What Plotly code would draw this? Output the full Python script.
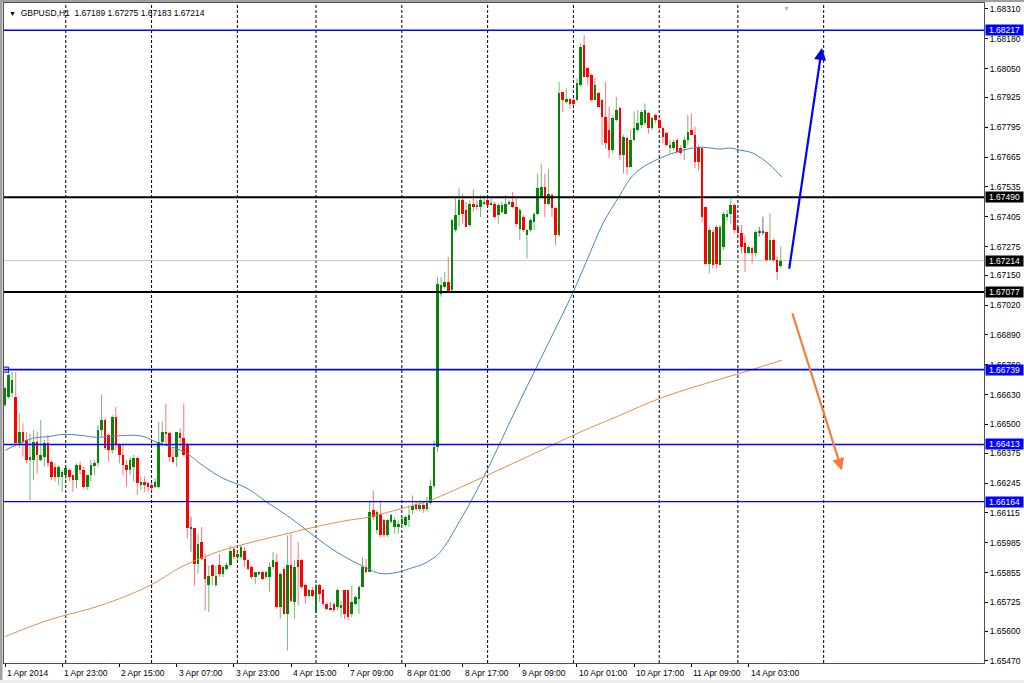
import plotly.graph_objects as go

# ---------------- DATA ----------------
title_text = "GBPUSD,H1  1.67189 1.67275 1.67183 1.67214"

# hourly bars, index 0 = 1 Apr 2014 07:00
open_ = [
1.66584,1.66620,1.66635,1.66620,1.66418,1.66468,1.66432,1.66345,1.66345,1.66425,
1.66345,1.66360,1.66418,1.66338,1.66316,1.66273,1.66273,1.66280,1.66302,1.66280,
1.66258,1.66323,1.66302,1.66229,1.66280,1.66323,1.66331,1.66476,1.66519,1.66454,
1.66389,1.66534,1.66410,1.66367,1.66323,1.66302,1.66316,1.66352,1.66236,1.66251,
1.66244,1.66236,1.66229,1.66229,1.66425,1.66468,1.66461,1.66360,1.66360,1.66461,
1.66439,1.66410,1.66048,1.66048,1.65893,1.65988,1.65915,1.65799,1.65886,1.65799,
1.65886,1.65850,1.65871,1.65886,1.65959,1.65922,1.65922,1.65951,1.65908,1.65879,
1.65835,1.65853,1.65857,1.65835,1.65835,1.65879,1.65900,1.65704,1.65871,1.65675,
1.65886,1.65726,1.65908,1.65908,1.65799,1.65755,1.65777,1.65682,1.65799,1.65777,
1.65719,1.65697,1.65719,1.65704,1.65704,1.65777,1.65777,1.65675,1.65719,1.65741,
1.65792,1.65879,1.65857,1.66126,1.66039,1.66111,1.66082,1.66017,1.66075,1.66053,
1.66053,1.66068,1.66060,1.66082,1.66126,1.66155,1.66133,1.66150,1.66130,1.66160,
1.66230,1.66400,1.67070,1.67099,1.67121,1.67085,1.67346,1.67412,1.67477,1.67433,
1.67368,1.67462,1.67448,1.67448,1.67462,1.67477,1.67455,1.67462,1.67412,1.67426,
1.67419,1.67462,1.67470,1.67448,1.67353,1.67404,1.67324,1.67346,1.67383,1.67419,
1.67491,1.67535,1.67462,1.67499,1.67441,1.67324,1.67949,1.67906,1.67920,1.67913,
1.67913,1.67978,1.68153,1.68051,1.68022,1.67913,1.67942,1.67913,1.67840,1.67782,
1.67695,1.67826,1.67877,1.67674,1.67746,1.67623,1.67739,1.67783,1.67804,1.67812,
1.67855,1.67790,1.67848,1.67826,1.67790,1.67768,1.67703,1.67703,1.67739,1.67703,
1.67703,1.67739,1.67783,1.67761,1.67710,1.67703,1.67448,1.67201,1.67339,1.67361,
1.67194,1.67274,1.67405,1.67419,1.67456,1.67361,1.67332,1.67289,1.67245,1.67267,
1.67245,1.67339,1.67339,1.67339,1.67216,1.67303,1.67216,1.67189]
high_ = [
1.66664,1.66729,1.66729,1.66729,1.66548,1.66505,1.66468,1.66461,1.66476,1.66468,
1.66519,1.66432,1.66454,1.66345,1.66331,1.66323,1.66302,1.66316,1.66309,1.66280,
1.66331,1.66338,1.66316,1.66280,1.66345,1.66345,1.66497,1.66628,1.66526,1.66461,
1.66541,1.66577,1.66418,1.66418,1.66345,1.66360,1.66367,1.66360,1.66273,1.66273,
1.66251,1.66244,1.66265,1.66512,1.66512,1.66591,1.66468,1.66396,1.66468,1.66483,
1.66591,1.66418,1.66099,1.66048,1.66024,1.66053,1.65937,1.65886,1.65893,1.65886,
1.65937,1.65886,1.65900,1.65973,1.65966,1.65951,1.65973,1.65966,1.65915,1.65886,
1.65857,1.65860,1.65864,1.65864,1.65900,1.65944,1.65937,1.65857,1.65879,1.66017,
1.66024,1.65908,1.65988,1.65915,1.65806,1.65785,1.65792,1.65806,1.65806,1.65785,
1.65726,1.65726,1.65726,1.65785,1.65733,1.65777,1.65777,1.65799,1.65755,1.65799,
1.65922,1.65915,1.66169,1.66213,1.66126,1.66169,1.66089,1.66089,1.66111,1.66097,
1.66082,1.66097,1.66104,1.66147,1.66191,1.66162,1.66170,1.66165,1.66185,1.66260,
1.66430,1.67143,1.67143,1.67165,1.67230,1.67397,1.67484,1.67528,1.67506,1.67470,
1.67477,1.67523,1.67477,1.67499,1.67499,1.67491,1.67484,1.67470,1.67462,1.67470,
1.67499,1.67477,1.67513,1.67484,1.67441,1.67412,1.67353,1.67397,1.67426,1.67593,
1.67637,1.67593,1.67615,1.67506,1.67448,1.67993,1.67949,1.67964,1.67920,1.67920,
1.68007,1.68160,1.68196,1.68058,1.68029,1.68007,1.67949,1.67920,1.67993,1.67884,
1.67847,1.67927,1.67884,1.67761,1.67754,1.67783,1.67863,1.67870,1.67870,1.67899,
1.67863,1.67841,1.67855,1.67834,1.67797,1.67775,1.67739,1.67739,1.67746,1.67717,
1.67754,1.67848,1.67855,1.67797,1.67717,1.67710,1.67448,1.67361,1.67347,1.67369,
1.67369,1.67427,1.67434,1.67485,1.67463,1.67369,1.67369,1.67325,1.67281,1.67274,
1.67347,1.67361,1.67405,1.67339,1.67419,1.67310,1.67231,1.67275]
low_ = [
1.66577,1.66613,1.66620,1.66410,1.66396,1.66360,1.66331,1.66171,1.66258,1.66287,
1.66338,1.66316,1.66316,1.66258,1.66251,1.66236,1.66207,1.66251,1.66251,1.66207,
1.66222,1.66280,1.66222,1.66215,1.66251,1.66280,1.66316,1.66447,1.66389,1.66338,
1.66374,1.66389,1.66331,1.66280,1.66229,1.66280,1.66251,1.66193,1.66215,1.66207,
1.66207,1.66200,1.66222,1.66222,1.66403,1.66418,1.66338,1.66331,1.66316,1.66396,
1.66360,1.66004,1.65946,1.65799,1.65850,1.65908,1.65690,1.65682,1.65799,1.65792,
1.65835,1.65835,1.65864,1.65879,1.65915,1.65908,1.65915,1.65879,1.65864,1.65828,
1.65806,1.65842,1.65821,1.65828,1.65770,1.65871,1.65697,1.65653,1.65675,1.65515,
1.65726,1.65653,1.65712,1.65785,1.65719,1.65748,1.65748,1.65675,1.65726,1.65712,
1.65690,1.65690,1.65682,1.65690,1.65661,1.65653,1.65646,1.65661,1.65712,1.65675,
1.65792,1.65850,1.65857,1.66082,1.66024,1.66010,1.66010,1.66010,1.66068,1.66024,
1.66024,1.66060,1.66053,1.66053,1.66111,1.66126,1.66120,1.66115,1.66120,1.66150,
1.66220,1.66380,1.67056,1.67092,1.67077,1.67077,1.67339,1.67361,1.67375,1.67361,
1.67361,1.67426,1.67433,1.67404,1.67455,1.67448,1.67455,1.67397,1.67375,1.67419,
1.67419,1.67455,1.67441,1.67361,1.67303,1.67339,1.67223,1.67339,1.67346,1.67412,
1.67484,1.67404,1.67455,1.67404,1.67281,1.67317,1.67862,1.67898,1.67877,1.67884,
1.67906,1.67971,1.68015,1.67978,1.67906,1.67913,1.67884,1.67717,1.67702,1.67659,
1.67680,1.67818,1.67651,1.67594,1.67587,1.67623,1.67732,1.67775,1.67790,1.67804,
1.67768,1.67783,1.67812,1.67783,1.67725,1.67710,1.67681,1.67695,1.67681,1.67674,
1.67652,1.67717,1.67761,1.67616,1.67608,1.67383,1.67194,1.67158,1.67180,1.67180,
1.67194,1.67260,1.67390,1.67376,1.67332,1.67318,1.67245,1.67165,1.67245,1.67201,
1.67231,1.67318,1.67325,1.67209,1.67216,1.67209,1.67129,1.67183]
close_ = [
1.66657,1.66715,1.66693,1.66418,1.66468,1.66425,1.66345,1.66360,1.66425,1.66367,
1.66367,1.66418,1.66331,1.66273,1.66273,1.66316,1.66294,1.66309,1.66273,1.66258,
1.66323,1.66302,1.66229,1.66280,1.66323,1.66331,1.66476,1.66519,1.66396,1.66389,
1.66534,1.66410,1.66367,1.66323,1.66302,1.66345,1.66352,1.66244,1.66251,1.66236,
1.66229,1.66222,1.66251,1.66425,1.66468,1.66461,1.66360,1.66338,1.66468,1.66439,
1.66367,1.66048,1.66048,1.65893,1.65980,1.65915,1.65828,1.65842,1.65842,1.65842,
1.65850,1.65879,1.65886,1.65951,1.65922,1.65937,1.65966,1.65908,1.65871,1.65835,
1.65857,1.65853,1.65828,1.65857,1.65879,1.65908,1.65704,1.65850,1.65675,1.65886,
1.65733,1.65879,1.65879,1.65792,1.65755,1.65777,1.65755,1.65799,1.65762,1.65719,
1.65697,1.65697,1.65690,1.65777,1.65712,1.65675,1.65661,1.65726,1.65748,1.65792,
1.65879,1.65857,1.66118,1.66097,1.66118,1.66017,1.66017,1.66082,1.66104,1.66082,
1.66068,1.66089,1.66097,1.66104,1.66147,1.66133,1.66150,1.66130,1.66160,1.66230,
1.66400,1.67114,1.67106,1.67121,1.67077,1.67390,1.67412,1.67477,1.67419,1.67361,
1.67462,1.67448,1.67455,1.67477,1.67470,1.67455,1.67465,1.67404,1.67455,1.67455,
1.67462,1.67470,1.67448,1.67375,1.67433,1.67346,1.67346,1.67390,1.67419,1.67528,
1.67535,1.67462,1.67506,1.67441,1.67324,1.67942,1.67913,1.67920,1.67898,1.67898,
1.67986,1.68145,1.68015,1.68015,1.67913,1.67978,1.67884,1.67840,1.67724,1.67695,
1.67833,1.67869,1.67673,1.67754,1.67623,1.67739,1.67790,1.67812,1.67863,1.67870,
1.67790,1.67834,1.67826,1.67790,1.67754,1.67717,1.67717,1.67732,1.67688,1.67681,
1.67739,1.67775,1.67761,1.67645,1.67645,1.67405,1.67201,1.67347,1.67194,1.67201,
1.67361,1.67419,1.67419,1.67456,1.67347,1.67332,1.67274,1.67245,1.67274,1.67245,
1.67339,1.67339,1.67339,1.67216,1.67303,1.67216,1.67165,1.67214]

# moving averages (bar index, price)
ma_fast_idx = [0,3.4,7.8,12.6,16.2,21,25.7,29.4,35.8,38.6,42.5,47,50.9,54.5,57.3,61,67.7,73.3,79.7,86.2,
               92.9,98.5,101.3,104.9,109.6,114.1,116.1,118.9,121.7,127.3,133.7,144,152.4,158.9,162.8,167.3,
               172,174.8,177.6,183.2,189.7,194.4,200,202.8,205.6,209.2,214,217.3]
ma_fast_val = [1.66387,1.66413,1.66440,1.66448,1.66457,1.66453,1.66444,1.66448,1.66453,1.66448,1.66422,
               1.66400,1.66374,1.66331,1.66300,1.66265,1.66222,1.66161,1.66095,1.66017,1.65943,1.65895,
               1.65873,1.65851,1.65855,1.65877,1.65886,1.65908,1.65943,1.66082,1.66265,1.66601,1.66867,
               1.67076,1.67216,1.67377,1.67499,1.67569,1.67612,1.67660,1.67695,1.67708,1.67700,1.67704,
               1.67695,1.67682,1.67630,1.67578]
ma_slow_idx = [0,12.6,26.6,40.6,49,58.2,67.7,76.9,86.2,95.7,101.3,106.9,114.1,118.9,132.9,146.9,160.8,
               172,183.2,194.4,205.6,217.3]
ma_slow_val = [1.65576,1.65650,1.65711,1.65799,1.65877,1.65938,1.65982,1.66017,1.66052,1.66082,1.66095,
               1.66117,1.66147,1.66169,1.66265,1.66365,1.66466,1.66540,1.66614,1.66671,1.66723,1.66780]

# horizontal levels
level_vals = [1.68217, 1.67490, 1.67214, 1.67077, 1.66739, 1.66413, 1.66164]
level_line_colors = ["#0000ff", "#000000", "#c8c8c8", "#000000", "#0000ff", "#0000ff", "#0000ff"]
level_line_widths = [1.6, 2, 1, 2, 1.6, 1.6, 1.2]
level_label_bg = ["#0000ff", "#000000", "#000000", "#000000", "#0000ff", "#0000ff", "#0000ff"]

# axes
price_ticks = [1.68310,1.68180,1.68050,1.67925,1.67795,1.67665,1.67535,1.67405,1.67275,1.67150,1.67020,
               1.66890,1.66760,1.66630,1.66500,1.66375,1.66245,1.66115,1.65985,1.65855,1.65725,1.65600,1.65470]
time_labels = ["1 Apr 2014","1 Apr 23:00","2 Apr 15:00","3 Apr 07:00","3 Apr 23:00","4 Apr 15:00",
               "7 Apr 09:00","8 Apr 01:00","8 Apr 17:00","9 Apr 09:00","10 Apr 01:00","10 Apr 17:00",
               "11 Apr 09:00","14 Apr 03:00"]
time_label_idx = [0,16,32,48,64,80,96,112,128,144,160,176,192,208]
day_separator_idx = [17,41,65,87,111,135,159,183,205,229]

# hand-drawn arrows (tail -> head), in bar index / price
arrow_up = dict(tail=(219.3, 1.67172), head=(228.5, 1.68140), color="#0000ff")
arrow_down = dict(tail=(220.1, 1.66991), head=(234.1, 1.66300), color="#f47c3c")

X_RANGE = [-0.28, 273.85]
Y_RANGE = [1.65461, 1.68336]

FONT = "Liberation Sans, Arial, sans-serif"

# ---------------- FIGURE ----------------
fig = go.Figure()

groups = {
    "up":   dict(body="#0a870a", wick="rgba(0,128,0,0.55)"),
    "down": dict(body="#ff0000", wick="rgba(255,0,0,0.55)"),
    "doji": dict(body="#505050", wick="rgba(60,60,60,0.7)"),
}
min_h = 0.00003
for g, col in groups.items():
    ids = [i for i in range(len(open_))
           if (g == "up" and close_[i] > open_[i]) or (g == "down" and close_[i] < open_[i])
           or (g == "doji" and close_[i] == open_[i])]
    wx, wy = [], []
    for i in ids:
        wx += [i, i, None]
        wy += [low_[i], high_[i], None]
    fig.add_trace(go.Scatter(x=wx, y=wy, mode="lines", line=dict(color=col["wick"], width=1),
                             hoverinfo="skip", showlegend=False))
    bx, by, bb = [], [], []
    for i in ids:
        lo, hi = min(open_[i], close_[i]), max(open_[i], close_[i])
        h = hi - lo
        if h < min_h:
            lo = (lo + hi) / 2 - min_h / 2
            h = min_h
        bx.append(i); by.append(h); bb.append(lo)
    fig.add_trace(go.Bar(x=bx, y=by, base=bb, width=0.72, marker=dict(color=col["body"], line=dict(width=0)),
                         hoverinfo="skip", showlegend=False))

fig.add_trace(go.Scatter(x=ma_fast_idx, y=ma_fast_val, mode="lines", line=dict(color="#4a86c0", width=1, shape="spline"),
                         hoverinfo="skip", showlegend=False))
fig.add_trace(go.Scatter(x=ma_slow_idx, y=ma_slow_val, mode="lines", line=dict(color="#e0904a", width=1, shape="spline"),
                         hoverinfo="skip", showlegend=False))

shapes = []
for d in day_separator_idx:
    shapes.append(dict(type="line", xref="x", yref="paper", x0=d, x1=d, y0=0, y1=1, layer="below",
                       line=dict(color="#000000", width=1, dash="3px,2px")))
for v, c, w in zip(level_vals, level_line_colors, level_line_widths):
    shapes.append(dict(type="line", xref="paper", yref="y", x0=0, x1=1, y0=v, y1=v,
                       layer="below" if c == "#c8c8c8" else "above", line=dict(color=c, width=w)))

# window frame (outside the plot area)
W, H = 1024, 683
L, R, T, B = 4, 40, 3, 20
pw, ph = W - L - R, H - T - B
def px_x(px): return (px - L) / pw
def px_y(py): return 1 - (py - T) / ph
shapes.append(dict(type="rect", xref="paper", yref="paper", x0=px_x(0), x1=px_x(2.5), y0=px_y(H), y1=px_y(0),
                   fillcolor="#a0a0a0", line=dict(width=0), layer="above"))
shapes.append(dict(type="rect", xref="paper", yref="paper", x0=px_x(0), x1=px_x(W), y0=px_y(2), y1=px_y(0),
                   fillcolor="#a0a0a0", line=dict(width=0), layer="above"))
shapes.append(dict(type="rect", xref="paper", yref="paper", x0=px_x(0), x1=px_x(W), y0=px_y(H), y1=px_y(680),
                   fillcolor="#ececec", line=dict(width=0), layer="above"))

annotations = []
annotations.append(dict(xref="paper", yref="paper", x=0, y=1, xanchor="left", yanchor="top", xshift=3, yshift=-3,
                        showarrow=False, align="left",
                        text='<span style="font-size:7px">▼</span>  ' + title_text,
                        font=dict(family=FONT, size=8.5, color="#000000")))
for v, bg in zip(level_vals, level_label_bg):
    annotations.append(dict(xref="paper", yref="y", x=1, y=v, xanchor="left", yanchor="middle", xshift=1,
                            showarrow=False, text=f"{v:.5f}", bgcolor=bg, borderpad=0, width=37, align="center",
                            font=dict(family=FONT, size=8.5, color="#ffffff")))
for lab, i in zip(time_labels, time_label_idx):
    annotations.append(dict(xref="x", yref="paper", x=i, y=0, xanchor="left", yanchor="top", xshift=0, yshift=-3,
                            showarrow=False, text=lab, font=dict(family=FONT, size=8.5, color="#000000")))
for a in (arrow_up, arrow_down):
    annotations.append(dict(xref="x", yref="y", axref="x", ayref="y", x=a["head"][0], y=a["head"][1],
                            ax=a["tail"][0], ay=a["tail"][1], text="", showarrow=True, arrowhead=2,
                            arrowsize=1.1, arrowwidth=2.2, arrowcolor=a["color"]))
# chart-shift marker on the top border
annotations.append(dict(xref="x", yref="paper", x=218.7, y=1, yanchor="top", showarrow=False, text="▼",
                        font=dict(size=7, color="#b0b0b0")))

# level anchor square on the 1.66739 line
fig.add_trace(go.Scatter(x=[0.3], y=[level_vals[4]], mode="markers",
                         marker=dict(symbol="square-open", size=5, color="#0000ff", line=dict(width=1)),
                         hoverinfo="skip", showlegend=False))

fig.update_layout(
    width=W, height=H, autosize=False,
    margin=dict(l=L, r=R, t=T, b=B, pad=0),
    paper_bgcolor="#ffffff", plot_bgcolor="#ffffff",
    barmode="overlay", bargap=0,
    shapes=shapes, annotations=annotations,
    font=dict(family=FONT, size=8.5, color="#000000"),
    xaxis=dict(range=X_RANGE, showgrid=False, zeroline=False, showline=True, linecolor="#505050", linewidth=1,
               mirror=True, tickmode="array", tickvals=time_label_idx, ticktext=[""] * len(time_label_idx),
               ticks="outside", ticklen=3, tickcolor="#000000", fixedrange=True),
    yaxis=dict(range=Y_RANGE, side="right", showgrid=False, zeroline=False, showline=True, linecolor="#505050",
               linewidth=1, mirror=True, tickmode="array", tickvals=price_ticks,
               ticktext=[f"{t:.5f}" for t in price_ticks], ticks="outside", ticklen=3, tickcolor="#000000",
               tickfont=dict(family=FONT, size=8.5, color="#000000"), fixedrange=True),
    showlegend=False,
)

fig.write_html("out.html", config={"displayModeBar": False},
               post_script="document.body.style.margin='0';document.body.style.padding='0';")
